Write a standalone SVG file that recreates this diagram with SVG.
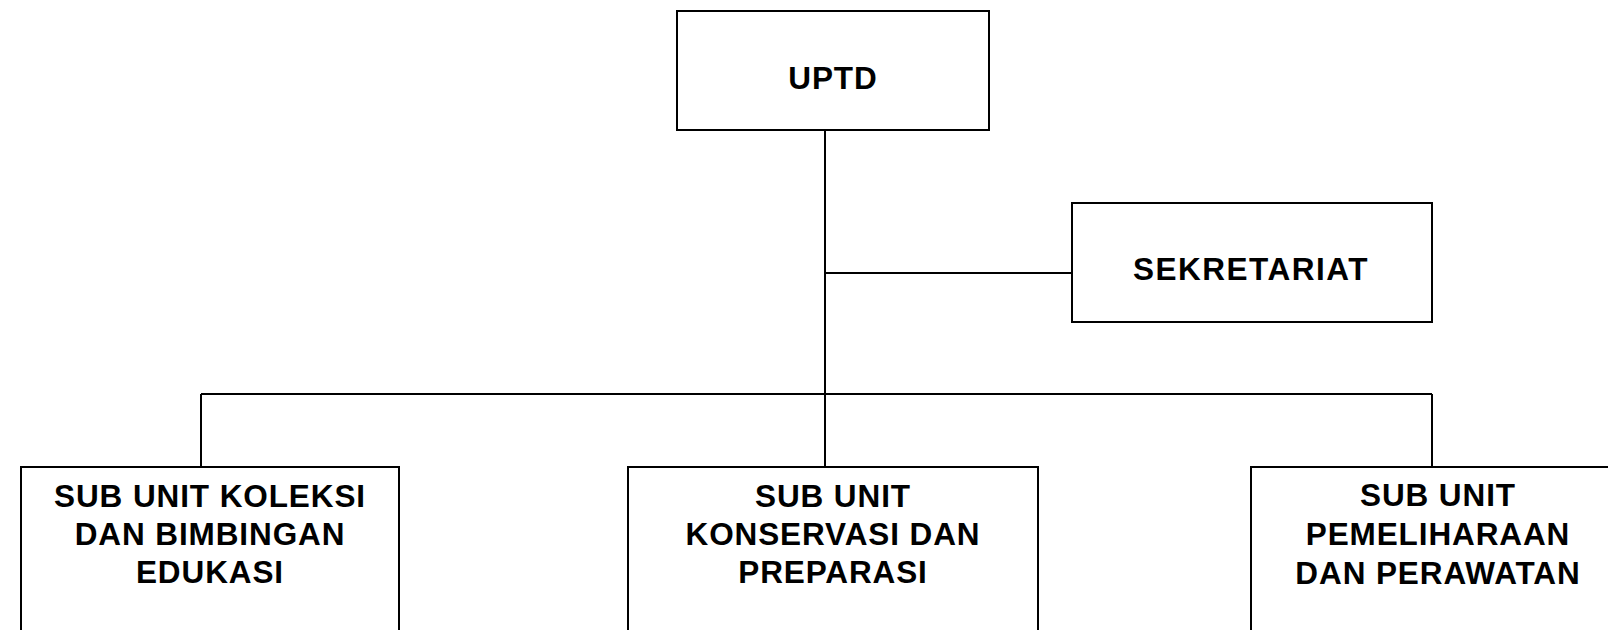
<svg xmlns="http://www.w3.org/2000/svg" width="1608" height="630" viewBox="0 0 1608 630">
<style>
.box{fill:#fff;stroke:#000;stroke-width:2}
.con{fill:none;stroke:#000;stroke-width:2}
.t{font-family:"Liberation Sans",Arial,sans-serif;font-weight:bold;font-size:31.5px;letter-spacing:0.9px;fill:#000;text-anchor:middle}
</style>
<rect width="1608" height="630" fill="#fff"/>
<g id="connectors">
<path class="con" d="M825,130 V467"/>
<path class="con" d="M825,273 H1072"/>
<path class="con" d="M201,394 H1432"/>
<path class="con" d="M201,394 V467"/>
<path class="con" d="M1432,394 V467"/>
</g>
<g id="uptd">
<rect class="box" x="677" y="11" width="312" height="119"/>
<text class="t" x="833" y="89">UPTD</text>
</g>
<g id="sekretariat">
<rect class="box" x="1072" y="203" width="360" height="119"/>
<text class="t" x="1251" y="280" style="letter-spacing:1.5px">SEKRETARIAT</text>
</g>
<g id="koleksi">
<rect class="box" x="21" y="467" width="378" height="180"/>
<text class="t" x="210" y="507">SUB UNIT KOLEKSI</text>
<text class="t" x="210" y="545">DAN BIMBINGAN</text>
<text class="t" x="210" y="583">EDUKASI</text>
</g>
<g id="konservasi">
<rect class="box" x="628" y="467" width="410" height="180"/>
<text class="t" x="833" y="507">SUB UNIT</text>
<text class="t" x="833" y="545">KONSERVASI DAN</text>
<text class="t" x="833" y="583">PREPARASI</text>
</g>
<g id="pemeliharaan">
<rect class="box" x="1251" y="467" width="380" height="180"/>
<text class="t" x="1438" y="506">SUB UNIT</text>
<text class="t" x="1438" y="545">PEMELIHARAAN</text>
<text class="t" x="1438" y="584">DAN PERAWATAN</text>
</g>
</svg>
